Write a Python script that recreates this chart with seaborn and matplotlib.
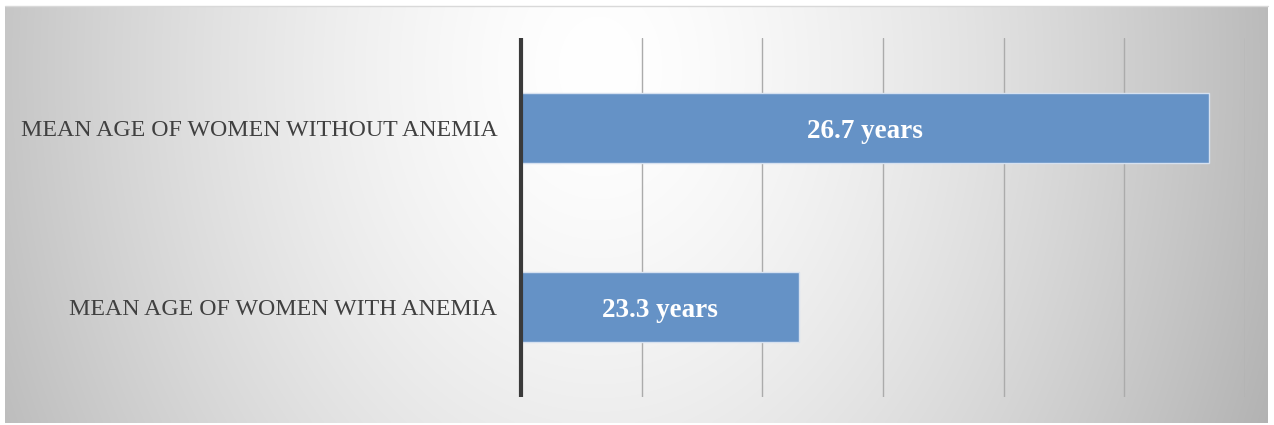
import numpy as np
import pandas as pd
import matplotlib
matplotlib.use("Agg")
import matplotlib.pyplot as plt
import seaborn as sns

categories = ["MEAN AGE OF WOMEN WITHOUT ANEMIA", "MEAN AGE OF WOMEN WITH ANEMIA"]
values = [26.7, 23.3]
value_labels = ["26.7 years", "23.3 years"]
x_min, x_max = 21, 27

sns.set_theme(style="white")
plt.rcParams["font.family"] = ["Liberation Serif", "DejaVu Serif"]

W, H = 1274, 425
fig = plt.figure(figsize=(W / 100, H / 100), dpi=100)
fig.patch.set_facecolor("white")

# background gradient panel
bg = fig.add_axes([5 / W, 1 - 423 / H, (1268 - 5) / W, (423 - 6) / H], zorder=0)
nx, ny = 600, 200
xx, yy = np.meshgrid(np.linspace(0, 1, nx), np.linspace(0, 1, ny))
cx, cy = 0.47, 0.15
d = np.sqrt(((xx - cx) / 0.56) ** 2 + ((yy - cy) / 2.2) ** 2)
d = np.clip(d, 0, 1.1)
lum = 1.0 - 0.29 * d ** 1.5
img = np.dstack([lum, lum, lum])
bg.imshow(img, aspect="auto", extent=[0, 1, 1, 0], interpolation="bilinear")
bg.set_axis_off()
fig.add_artist(plt.Line2D([5 / W, 1268 / W], [1 - 6 / H, 1 - 6 / H], color="#d9d9d9", lw=1))

ax = fig.add_axes([521 / W, 1 - 397 / H, (1245 - 521) / W, (397 - 38) / H], zorder=1)
ax.patch.set_alpha(0)

df = pd.DataFrame({"category": categories, "value": values})
sns.barplot(data=df, x="value", y="category", orient="h", color="#6592c6",
            width=0.39, saturation=1, ax=ax, edgecolor="#d6e1f0", linewidth=1.0, zorder=3)

ax.set_xlim(x_min, x_max)
ax.set_ylim(1.5, -0.5)
ax.set_xticks(np.arange(x_min, x_max + 1, 1))
ax.xaxis.grid(True, color="#ababab", lw=1.0, zorder=0)
ax.yaxis.grid(False)
ax.set_axisbelow(True)
ax.tick_params(axis="x", length=0, labelbottom=False)
ax.tick_params(axis="y", length=0, pad=17, labelsize=17.2, labelcolor="#404040")
ax.set_xlabel("")
ax.set_ylabel("")
for s in ["top", "right", "bottom"]:
    ax.spines[s].set_visible(False)
ax.spines["left"].set_color("#3a3a3a")
ax.spines["left"].set_linewidth(3)
ax.spines["left"].set_capstyle("butt")
ax.spines["left"].set_zorder(5)

for patch, lab in zip(ax.patches, value_labels):
    x0 = max(patch.get_x(), x_min)
    x1 = patch.get_x() + patch.get_width()
    yc = patch.get_y() + patch.get_height() / 2
    ax.text((x0 + x1) / 2, yc + 0.02, lab, ha="center", va="center", color="white",
            fontsize=19.5, fontweight="bold", zorder=6)

fig.savefig("out.png", dpi=100)
